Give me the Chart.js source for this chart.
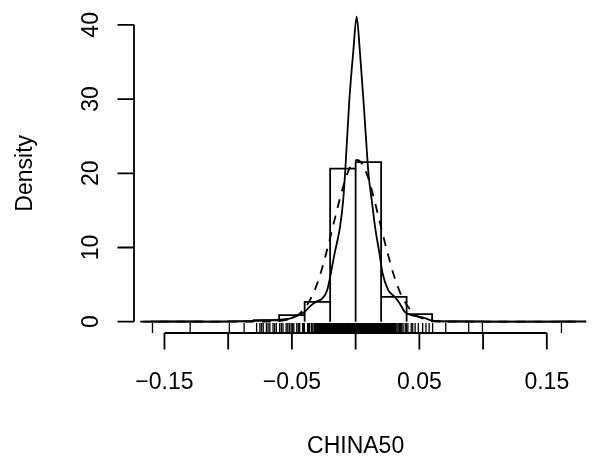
<!DOCTYPE html>
<html>
<head>
<meta charset="utf-8">
<script src="https://cdn.jsdelivr.net/npm/chart.js@4"></script>
<style>
  body { margin: 0; background: #fff; }
  #c { display: block; }
</style>
</head>
<body>
<canvas id="c" width="600" height="466"></canvas>
<script>
// histogram of CHINA50 (density scale), bin width 0.02
const binEdges = [-0.16, -0.14, -0.12, -0.10, -0.08, -0.06, -0.04, -0.02, 0, 0.02, 0.04, 0.06, 0.08, 0.10, 0.12, 0.14, 0.16, 0.18];
const binHeights = [0.03, 0.03, 0, 0.05, 0.2, 0.9, 2.68, 20.64, 21.5, 3.35, 1.03, 0.05, 0.05, 0, 0, 0, 0.03];

// kernel density (solid)
const densX = [-0.169, -0.15, -0.13, -0.11, -0.095, -0.085, -0.075, -0.065, -0.056, -0.051, -0.0455, -0.04, -0.0363, -0.031, -0.0262, -0.0224, -0.0196, -0.0165, -0.0123, -0.0098, -0.008, -0.005, -0.0018, 0.0008, 0.0033, 0.0062, 0.0088, 0.0101, 0.0127, 0.0153, 0.0187, 0.0212, 0.0256, 0.0307, 0.0346, 0.0385, 0.0437, 0.0488, 0.054, 0.0578, 0.062, 0.07, 0.08, 0.10, 0.13, 0.16, 0.17];
const densY = [0, 0.01, 0.02, 0.02, 0.04, 0.08, 0.15, 0.22, 0.32, 0.46, 0.85, 1.3, 2.0, 2.7, 3.1, 4.2, 6.4, 9.2, 12.7, 16.3, 20.8, 29.7, 36.5, 41.1, 36.5, 29.7, 23, 19.9, 16.3, 12.7, 9.2, 6.5, 4.25, 3.35, 2.47, 1.34, 0.9, 0.7, 0.5, 0.25, 0.1, 0.05, 0.03, 0.02, 0.01, 0.02, 0];

// normal curve (dashed)
const normX = [-0.167, -0.10, -0.07, -0.06, -0.05, -0.045, -0.04, -0.035, -0.03, -0.025, -0.02, -0.015, -0.01, -0.005, 0, 0.001, 0.005, 0.01, 0.015, 0.02, 0.025, 0.03, 0.035, 0.04, 0.045, 0.05, 0.06, 0.07, 0.10, 0.181];
const normY = [0, 0, 0.02, 0.09, 0.47, 0.95, 1.8, 3.2, 5.2, 8.0, 11.3, 14.8, 18.1, 20.6, 21.7, 21.8, 21.3, 19.3, 16.2, 12.7, 9.3, 6.25, 3.9, 2.3, 1.25, 0.63, 0.13, 0.02, 0, 0];

// rug of observations
const rugX = [-0.1594, -0.1298, -0.0991, -0.0875, -0.0777, -0.0751, -0.0738, -0.0725, -0.07, -0.0687, -0.0673, -0.0648, -0.0635, -0.0622, -0.0596, -0.0583, -0.057, -0.0545, -0.0532, -0.0519, -0.0506, -0.0495, -0.0485, -0.0462, -0.045, -0.0439, -0.0416, -0.0408, -0.0402, -0.0377, -0.0369, -0.0361, -0.0346, -0.0336,
  -0.0325, -0.032, -0.0315, -0.031, -0.0305, -0.03, -0.0295, -0.029, -0.0285, -0.028, -0.0275, -0.027, -0.0265, -0.026, -0.0255, -0.025, -0.0245, -0.024, -0.0235, -0.023, -0.0225, -0.022, -0.0215, -0.021, -0.0205, -0.02,
  -0.0195, -0.019, -0.0185, -0.018, -0.0175, -0.017, -0.0165, -0.016, -0.0155, -0.015, -0.0145, -0.014, -0.0135, -0.013, -0.0125, -0.012, -0.0115, -0.011, -0.0105, -0.01,
  -0.0095, -0.009, -0.0085, -0.008, -0.0075, -0.007, -0.0065, -0.006, -0.0055, -0.005, -0.0045, -0.004, -0.0035, -0.003, -0.0025, -0.002, -0.0015, -0.001, -0.0005, 0,
  0.0005, 0.001, 0.0015, 0.002, 0.0025, 0.003, 0.0035, 0.004, 0.0045, 0.005, 0.0055, 0.006, 0.0065, 0.007, 0.0075, 0.008, 0.0085, 0.009, 0.0095, 0.01,
  0.0105, 0.011, 0.0115, 0.012, 0.0125, 0.013, 0.0135, 0.014, 0.0145, 0.015, 0.0155, 0.016, 0.0165, 0.017, 0.0175, 0.018, 0.0185, 0.019, 0.0195, 0.02,
  0.0205, 0.021, 0.0215, 0.022, 0.0225, 0.023, 0.0235, 0.024, 0.0245, 0.025, 0.0255, 0.026, 0.0265, 0.027, 0.0275, 0.028, 0.0285, 0.029, 0.0295, 0.03,
  0.0305, 0.031, 0.0315, 0.0324,
  0.0333, 0.0343, 0.0353, 0.0362, 0.0372, 0.0389, 0.0398, 0.041, 0.0436, 0.0448, 0.0467, 0.0492, 0.0526, 0.0552, 0.0577, 0.0604, 0.0707, 0.0887, 0.0995, 0.1615];

const xTicks = [-0.15, -0.10, -0.05, 0, 0.05, 0.10, 0.15];
const xTickLabels = ['\u22120.15', '', '\u22120.05', '', '0.05', '', '0.15'];
const yTicks = [0, 10, 20, 30, 40];
const yTickLabels = ['0', '10', '20', '30', '40'];
const xTitle = 'CHINA50';
const yTitle = 'Density';

const FONT = '23px "Liberation Sans", Arial, sans-serif';

// outline of the histogram rectangles
const histPts = [];
for (let i = 0; i < binHeights.length; i++) {
  histPts.push({x: binEdges[i], y: 0});
  histPts.push({x: binEdges[i], y: binHeights[i]});
  histPts.push({x: binEdges[i + 1], y: binHeights[i]});
  histPts.push({x: binEdges[i + 1], y: 0});
}

const rAxes = {
  id: 'rAxes',
  afterDraw(chart) {
    const ctx = chart.ctx;
    const xs = chart.scales.x;
    const ys = chart.scales.y;
    const area = chart.chartArea;
    const tick = 16.5;
    ctx.save();
    ctx.strokeStyle = '#000';
    ctx.fillStyle = '#000';
    ctx.lineWidth = 1.8;
    ctx.font = FONT;

    // x axis
    const ax = area.bottom;
    ctx.beginPath();
    ctx.moveTo(xs.getPixelForValue(xTicks[0]), ax);
    ctx.lineTo(xs.getPixelForValue(xTicks[xTicks.length - 1]), ax);
    xTicks.forEach(v => {
      const px = xs.getPixelForValue(v);
      ctx.moveTo(px, ax);
      ctx.lineTo(px, ax + tick);
    });
    ctx.stroke();
    ctx.textAlign = 'center';
    ctx.textBaseline = 'middle';
    xTicks.forEach((v, i) => {
      if (xTickLabels[i]) ctx.fillText(xTickLabels[i], xs.getPixelForValue(v), 383);
    });
    ctx.fillText(xTitle, xs.getPixelForValue(0), 447);

    // y axis
    const ay = area.left;
    ctx.beginPath();
    ctx.moveTo(ay, ys.getPixelForValue(yTicks[0]));
    ctx.lineTo(ay, ys.getPixelForValue(yTicks[yTicks.length - 1]));
    yTicks.forEach(v => {
      const py = ys.getPixelForValue(v);
      ctx.moveTo(ay, py);
      ctx.lineTo(ay - tick, py);
    });
    ctx.stroke();
    yTicks.forEach((v, i) => {
      ctx.save();
      ctx.translate(92, ys.getPixelForValue(v));
      ctx.rotate(-Math.PI / 2);
      ctx.fillText(yTickLabels[i], 0, 0);
      ctx.restore();
    });
    ctx.save();
    ctx.translate(26, ys.getPixelForValue(20));
    ctx.rotate(-Math.PI / 2);
    ctx.fillText(yTitle, 0, 0);
    ctx.restore();
    ctx.restore();
  }
};

new Chart(document.getElementById('c'), {
  type: 'line',
  data: {
    datasets: [
      {
        label: 'histogram',
        data: histPts,
        borderColor: '#000',
        borderWidth: 1.8,
        pointRadius: 0,
        tension: 0,
        fill: false
      },
      {
        label: 'density',
        data: densX.map((x, i) => ({x, y: densY[i]})),
        borderColor: '#000',
        borderWidth: 1.8,
        pointRadius: 0,
        cubicInterpolationMode: 'monotone',
        fill: false
      },
      {
        label: 'normal',
        data: normX.map((x, i) => ({x, y: normY[i]})),
        borderColor: '#000',
        borderWidth: 1.8,
        borderDash: [9, 8],
        pointRadius: 0,
        cubicInterpolationMode: 'monotone',
        fill: false
      },
      {
        label: 'rug',
        type: 'scatter',
        data: rugX.map(x => ({x, y: -0.845})),
        showLine: false,
        pointStyle: 'line',
        rotation: 90,
        pointRadius: 5,
        borderColor: '#000',
        borderWidth: 1.3
      }
    ]
  },
  options: {
    responsive: false,
    animation: false,
    events: [],
    layout: { padding: { left: 134, right: 0, top: 4.65, bottom: 133 } },
    plugins: { legend: { display: false }, tooltip: { enabled: false } },
    scales: {
      x: { type: 'linear', min: -0.1739, max: 0.1868, display: false },
      y: { type: 'linear', min: -1.52, max: 42.5, display: false }
    }
  },
  plugins: [rAxes]
});
</script>
</body>
</html>
